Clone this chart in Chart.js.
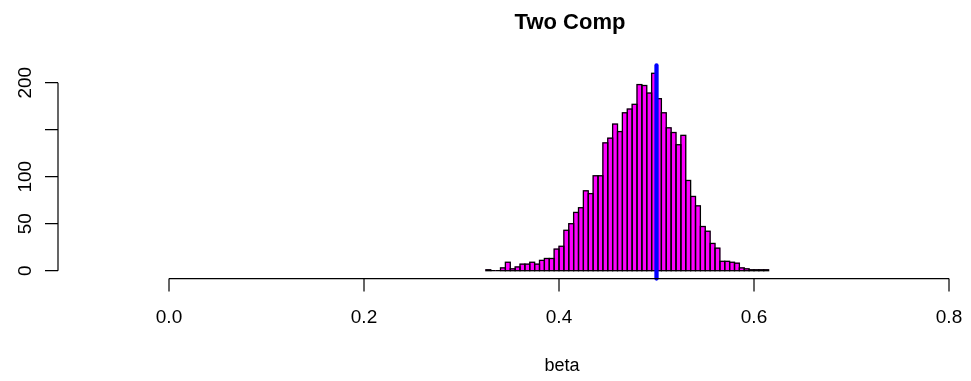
<!DOCTYPE html>
<html>
<head>
<meta charset="utf-8">
<script src="https://cdn.jsdelivr.net/npm/chart.js@4/dist/chart.umd.min.js"></script>
<style>
  html, body { margin: 0; padding: 0; background: #ffffff; }
  #wrap { width: 971px; height: 381px; }
</style>
</head>
<body>
<div id="wrap"><canvas id="c" width="971" height="381"></canvas></div>
<script>
// Histogram of posterior draws of beta (bin width 0.005)
const binMids = [0.3275,0.3325,0.3375,0.3425,0.3475,0.3525,0.3575,0.3625,0.3675,0.3725,
                 0.3775,0.3825,0.3875,0.3925,0.3975,0.4025,0.4075,0.4125,0.4175,0.4225,
                 0.4275,0.4325,0.4375,0.4425,0.4475,0.4525,0.4575,0.4625,0.4675,0.4725,
                 0.4775,0.4825,0.4875,0.4925,0.4975,0.5025,0.5075,0.5125,0.5175,0.5225,
                 0.5275,0.5325,0.5375,0.5425,0.5475,0.5525,0.5575,0.5625,0.5675,0.5725,
                 0.5775,0.5825,0.5875,0.5925,0.5975,0.6025,0.6075,0.6125];
const counts = [1,0,0,3,9,2,4,7,7,9,
                7,11,13,13,23,26,43,50,62,67,
                85,82,101,101,136,141,156,148,168,172,
                177,198,197,189,210,183,168,152,147,134,
                144,96,79,69,47,42,29,24,10,10,
                9,8,3,2,1,1,1,1];
const trueValue = 0.5;
const xTicks = [0, 0.2, 0.4, 0.6, 0.8];
const xTickLabels = ["0.0", "0.2", "0.4", "0.6", "0.8"];
const yTicks = [0, 50, 100, 150, 200];
const yTickLabels = ["0", "50", "100", "", "200"];
const titleText = "Two Comp";
const xLabel = "beta";

const FONT = '"Liberation Sans", Arial, Helvetica, sans-serif';

// Base-graphics style axes, outlines, reference line and titles
const baseGraphics = {
  id: 'baseGraphics',
  afterDatasetsDraw(chart) {
    const ctx = chart.ctx;
    const xs = chart.scales.x;
    const area = chart.chartArea;

    // bar outlines (full rectangles, zero bins as flat lines)
    const meta = chart.getDatasetMeta(0);
    ctx.save();
    ctx.strokeStyle = '#000000';
    ctx.lineWidth = 1.3;
    meta.data.forEach(bar => {
      const p = bar.getProps(['x', 'y', 'base', 'width'], true);
      ctx.strokeRect(p.x - p.width / 2, p.y, p.width, p.base - p.y);
    });
    ctx.restore();

    // vertical reference line
    ctx.save();
    ctx.strokeStyle = '#0000ff';
    ctx.lineWidth = 4.3;
    ctx.lineCap = 'round';
    const bx = xs.getPixelForValue(trueValue);
    ctx.beginPath();
    ctx.moveTo(bx, area.top);
    ctx.lineTo(bx, area.bottom);
    ctx.stroke();
    ctx.restore();
  },
  afterDraw(chart) {
    const ctx = chart.ctx;
    const xs = chart.scales.x, ys = chart.scales.y;
    const area = chart.chartArea;
    const tick = 13;
    ctx.save();
    ctx.strokeStyle = '#000000';
    ctx.fillStyle = '#000000';
    ctx.lineWidth = 1.2;

    // x axis
    const axY = area.bottom;
    ctx.beginPath();
    ctx.moveTo(xs.getPixelForValue(xTicks[0]), axY);
    ctx.lineTo(xs.getPixelForValue(xTicks[xTicks.length - 1]), axY);
    xTicks.forEach(v => {
      const px = xs.getPixelForValue(v);
      ctx.moveTo(px, axY);
      ctx.lineTo(px, axY + tick);
    });
    ctx.stroke();
    ctx.font = '19px ' + FONT;
    ctx.textAlign = 'center';
    ctx.textBaseline = 'middle';
    xTicks.forEach((v, i) => {
      ctx.fillText(xTickLabels[i], xs.getPixelForValue(v), 318);
    });

    // y axis
    const axX = area.left;
    ctx.beginPath();
    ctx.moveTo(axX, ys.getPixelForValue(yTicks[0]));
    ctx.lineTo(axX, ys.getPixelForValue(yTicks[yTicks.length - 1]));
    yTicks.forEach(v => {
      const py = ys.getPixelForValue(v);
      ctx.moveTo(axX, py);
      ctx.lineTo(axX - tick, py);
    });
    ctx.stroke();
    yTicks.forEach((v, i) => {
      if (!yTickLabels[i]) return;
      ctx.save();
      ctx.translate(26, ys.getPixelForValue(v));
      ctx.rotate(-Math.PI / 2);
      ctx.fillText(yTickLabels[i], 0, 0);
      ctx.restore();
    });

    // axis title and main title
    ctx.font = '18px ' + FONT;
    ctx.fillText(xLabel, 562, 366);
    ctx.font = 'bold 22px ' + FONT;
    ctx.fillText(titleText, 570, 23);
    ctx.restore();
  }
};

new Chart(document.getElementById('c'), {
  type: 'bar',
  data: {
    datasets: [{
      data: binMids.map((m, i) => ({ x: m, y: counts[i] })),
      backgroundColor: '#ff00ff',
      borderWidth: 0,
      barPercentage: 1,
      categoryPercentage: 1
    }]
  },
  options: {
    responsive: false,
    animation: false,
    layout: { padding: { left: 58, right: 11, top: 65.4, bottom: 102.4 } },
    plugins: { legend: { display: false }, tooltip: { enabled: false }, title: { display: false } },
    scales: {
      x: { type: 'linear', display: false, offset: false, min: -0.11385, max: 0.81128 },
      y: { type: 'linear', display: false, min: -8.4, max: 218.4 }
    }
  },
  plugins: [baseGraphics]
});
</script>
</body>
</html>
